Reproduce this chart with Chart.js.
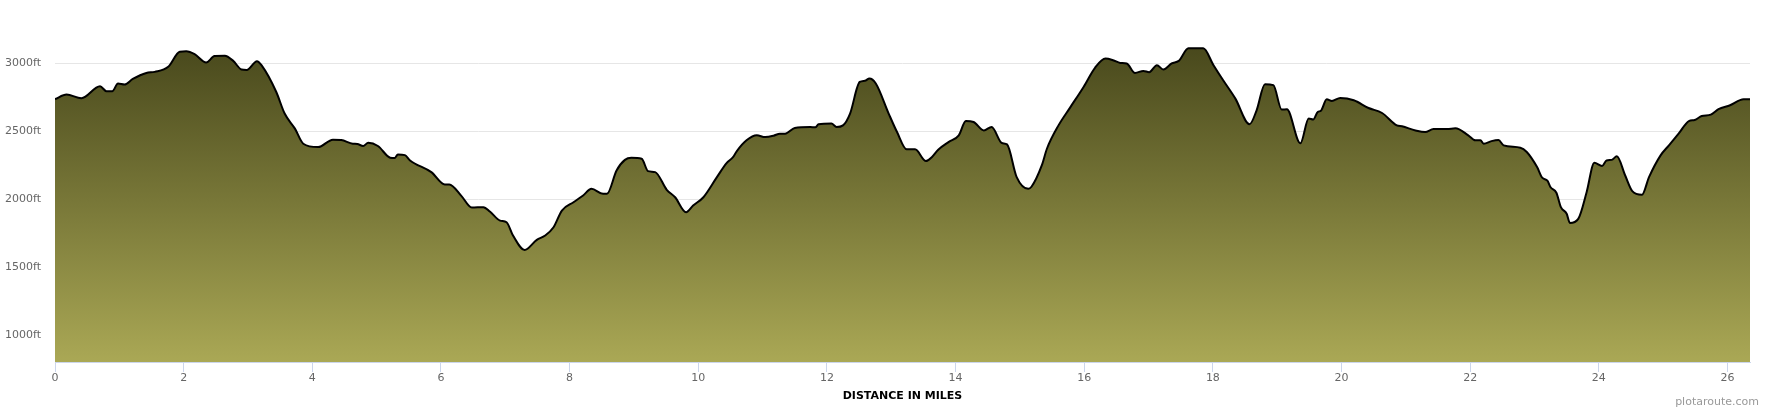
<!DOCTYPE html>
<html>
<head>
<meta charset="utf-8">
<title>Elevation profile</title>
<script src="https://cdn.jsdelivr.net/npm/chart.js@4.4.1/dist/chart.umd.min.js"></script>
<style>
  html, body { margin: 0; padding: 0; background: #fff; }
  #perfil { display: block; }
</style>
</head>
<body>
<canvas id="perfil" width="1770" height="410"></canvas>
<script>
// distance along the route (miles) and elevation (ft)
const distancia = [
  0.00, 0.18, 0.41, 0.70, 0.80, 0.89, 0.98, 1.08, 1.21, 1.42, 1.55, 1.76, 1.94, 2.04, 2.17, 2.35,
  2.48, 2.64, 2.77, 2.90, 2.98, 3.14, 3.21, 3.44, 3.57, 3.73, 3.86, 4.09, 4.32, 4.45, 4.63, 4.70,
  4.79, 4.87, 5.02, 5.21, 5.28, 5.33, 5.44, 5.52, 5.85, 6.06, 6.13, 6.32, 6.48, 6.66, 6.76, 6.92,
  7.02, 7.12, 7.30, 7.49, 7.62, 7.75, 7.88, 8.06, 8.21, 8.34, 8.52, 8.58, 8.73, 8.86, 8.96, 9.12,
  9.22, 9.33, 9.51, 9.64, 9.81, 9.92, 10.08, 10.29, 10.44, 10.54, 10.60, 10.75, 10.91, 11.04, 11.17, 11.27,
  11.35, 11.50, 11.74, 11.82, 11.87, 12.07, 12.15, 12.25, 12.36, 12.51, 12.59, 12.66, 12.76, 12.96, 13.09, 13.24,
  13.37, 13.54, 13.63, 13.73, 13.89, 14.05, 14.16, 14.28, 14.44, 14.56, 14.72, 14.80, 14.95, 15.13, 15.18, 15.34,
  15.42, 15.60, 15.78, 15.99, 16.17, 16.33, 16.45, 16.56, 16.66, 16.79, 16.92, 17.01, 17.13, 17.23, 17.36, 17.47,
  17.62, 17.85, 18.01, 18.16, 18.35, 18.57, 18.68, 18.81, 18.94, 19.07, 19.15, 19.36, 19.49, 19.56, 19.63, 19.68,
  19.77, 19.85, 19.98, 20.19, 20.42, 20.63, 20.86, 20.94, 21.15, 21.30, 21.43, 21.64, 21.77, 21.97, 22.08, 22.16,
  22.21, 22.33, 22.44, 22.52, 22.78, 22.88, 23.04, 23.12, 23.20, 23.25, 23.34, 23.41, 23.50, 23.55, 23.68, 23.81,
  23.93, 24.05, 24.12, 24.20, 24.28, 24.41, 24.52, 24.67, 24.78, 24.96, 25.09, 25.24, 25.40, 25.49, 25.60, 25.74,
  25.86, 26.04, 26.25, 26.35
];

const elevacion = [
  2735, 2769, 2742, 2830, 2793, 2793, 2850, 2843, 2884, 2928, 2936, 2973, 3084, 3087, 3066, 3005,
  3052, 3054, 3017, 2953, 2950, 3015, 2985, 2788, 2629, 2518, 2407, 2382, 2437, 2434, 2407, 2405,
  2390, 2414, 2390, 2304, 2301, 2328, 2323, 2284, 2198, 2107, 2107, 2021, 1937, 1940, 1908, 1841,
  1829, 1731, 1625, 1699, 1731, 1792, 1915, 1976, 2026, 2075, 2038, 2038, 2210, 2288, 2303, 2296,
  2205, 2198, 2068, 2013, 1903, 1952, 2013, 2161, 2264, 2308, 2353, 2432, 2469, 2456, 2466, 2481,
  2481, 2523, 2530, 2528, 2550, 2555, 2530, 2542, 2629, 2862, 2870, 2887, 2850, 2629, 2493, 2366,
  2366, 2279, 2308, 2363, 2419, 2469, 2574, 2567, 2505, 2530, 2412, 2402, 2161, 2075, 2090, 2247,
  2370, 2542, 2673, 2825, 2968, 3034, 3022, 3002, 2998, 2928, 2943, 2934, 2985, 2953, 2998, 3017,
  3109, 3109, 2985, 2874, 2739, 2550, 2653, 2845, 2838, 2658, 2661, 2410, 2592, 2585, 2641, 2650,
  2734, 2722, 2744, 2727, 2670, 2633, 2542, 2535, 2505, 2493, 2515, 2515, 2520, 2469, 2432, 2432,
  2407, 2426, 2434, 2395, 2378, 2346, 2235, 2157, 2135, 2087, 2046, 1940, 1891, 1824, 1854, 2050,
  2267, 2243, 2284, 2288, 2314, 2173, 2058, 2031, 2161, 2321, 2395, 2481, 2574, 2582, 2611, 2621,
  2661, 2690, 2734, 2734
];

const ticksMillas = [0, 2, 4, 6, 8, 10, 12, 14, 16, 18, 20, 22, 24, 26];
const ticksPies = [1000, 1500, 2000, 2500, 3000];

const puntos = distancia.map((d, i) => ({ x: d, y: elevacion[i] }));

function degradado(context) {
  const chart = context.chart;
  const area = chart.chartArea;
  if (!area) return '#7a7a3a';
  const g = chart.ctx.createLinearGradient(0, area.top, 0, area.bottom);
  g.addColorStop(0, '#45451a');
  g.addColorStop(1, '#aaa855');
  return g;
}

const marcaAgua = {
  id: 'marcaAgua',
  afterDraw(chart) {
    const ctx = chart.ctx;
    ctx.save();
    ctx.font = '11px "DejaVu Sans"';
    ctx.fillStyle = '#999999';
    ctx.textAlign = 'right';
    ctx.textBaseline = 'middle';
    ctx.fillText('plotaroute.com', 1759, 402);
    ctx.restore();
  }
};

const grafica = new Chart(document.getElementById('perfil'), {
  type: 'line',
  data: {
    datasets: [{
      data: puntos,
      borderColor: '#000000',
      borderWidth: 2,
      backgroundColor: degradado,
      fill: 'start',
      pointRadius: 0,
      cubicInterpolationMode: 'monotone'
    }]
  },
  options: {
    responsive: false,
    animation: false,
    layout: { padding: { top: 36, right: 20, left: 0, bottom: 0 } },
    plugins: {
      legend: { display: false },
      tooltip: { enabled: false }
    },
    scales: {
      x: {
        type: 'linear',
        min: 0,
        max: 26.35,
        afterBuildTicks: (scale) => { scale.ticks = ticksMillas.map(v => ({ value: v })); },
        afterFit: (scale) => { scale.height = 48; },
        grid: { drawOnChartArea: false, drawTicks: true, tickLength: 10, color: '#ccd6eb' },
        border: { display: true, color: '#ccd6eb', width: 1 },
        ticks: {
          color: '#666666',
          padding: 0,
          maxRotation: 0,
          font: { family: 'DejaVu Sans', size: 11 }
        },
        title: {
          display: true,
          text: 'DISTANCE IN MILES',
          color: '#000000',
          padding: { top: 0, bottom: 7 },
          font: { family: 'DejaVu Sans', size: 11, weight: 'bold' }
        }
      },
      y: {
        min: 800,
        max: 3200,
        afterBuildTicks: (scale) => { scale.ticks = ticksPies.map(v => ({ value: v })); },
        afterFit: (scale) => { scale.width = 55; },
        grid: { color: '#e6e6e6', drawTicks: false },
        border: { display: false },
        ticks: {
          color: '#666666',
          padding: 14,
          font: { family: 'DejaVu Sans', size: 11 },
          callback: (v) => v + 'ft'
        }
      }
    }
  },
  plugins: [marcaAgua]
});
</script>
</body>
</html>
